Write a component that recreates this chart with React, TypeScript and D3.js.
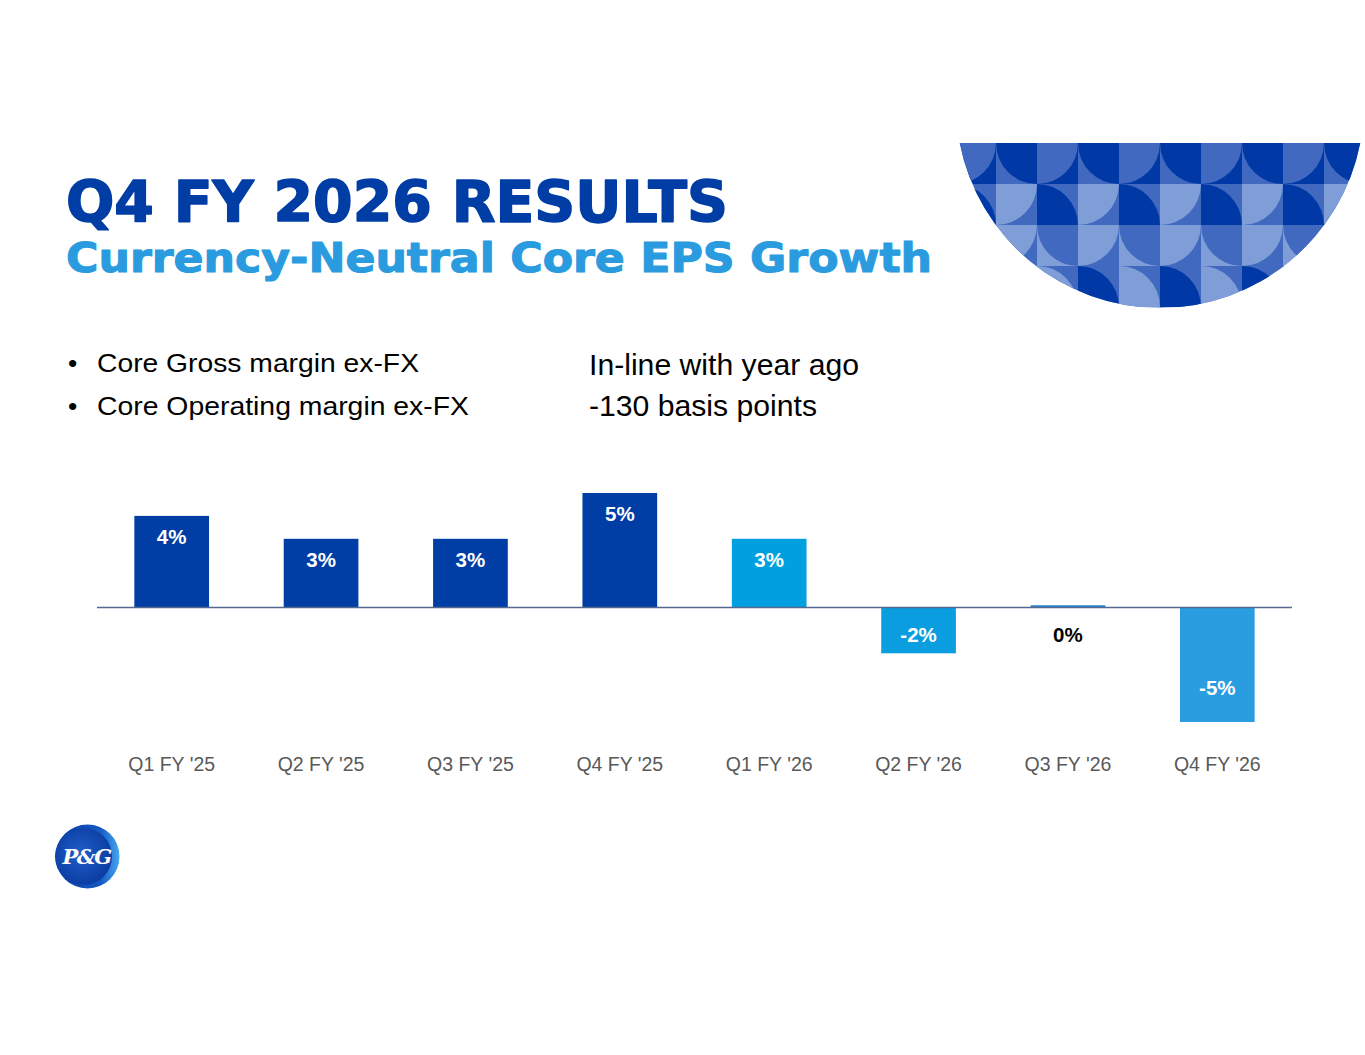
import * as d3 from "d3";

// chart values
const categories = ["Q1 FY '25", "Q2 FY '25", "Q3 FY '25", "Q4 FY '25", "Q1 FY '26", "Q2 FY '26", "Q3 FY '26", "Q4 FY '26"];
const growth = [4, 3, 3, 5, 3, -2, 0.1, -5];
const bullets = ["Core Gross margin ex-FX", "Core Operating margin ex-FX"];
const marginNotes = ["In-line with year ago", "-130 basis points"];

const W = 1365;
const H = 1055;

const DARK = "#003DA5";
const barColors = [DARK, DARK, DARK, DARK, "#009FE0", "#0A9EE0", "#2F86D6", "#2A9CE0"];

// text widths as measured on the slide (px)
const bulletWidths = [322, 372];
const noteWidths = [270, 228];

// decorative half-circle tile pattern
const TILE = 41;
const tileD = "#0039A6";
const tileM = "#4169BF";
const tileL = "#7F9ED8";
type Corner = "TL" | "TR" | "BL" | "BR";
const cornerAngles: Record<Corner, [number, number]> = {
  TL: [Math.PI / 2, Math.PI],
  TR: [Math.PI, (3 * Math.PI) / 2],
  BL: [0, Math.PI / 2],
  BR: [(3 * Math.PI) / 2, 2 * Math.PI],
};

function tileSpec(row: number, col: number): { bg: string; fg: string; corner: Corner } {
  const even = col % 2 === 0;
  if (row === 0) return even ? { bg: tileD, fg: tileM, corner: "TL" } : { bg: tileM, fg: tileD, corner: "TR" };
  if (row === 1) return even ? { bg: tileM, fg: tileD, corner: "BL" } : { bg: tileM, fg: tileL, corner: "TL" };
  if (row === 2) return even ? { bg: tileL, fg: tileM, corner: "TR" } : { bg: tileM, fg: tileL, corner: "TL" };
  return even ? { bg: tileM, fg: tileL, corner: "BL" } : { bg: tileM, fg: tileD, corner: "BL" };
}

function Pattern() {
  const cx = 1160;
  const cy = 104;
  const r = 204;
  const top = 143;
  const hw = Math.sqrt(r * r - (top - cy) * (top - cy));
  const clip = `M${cx - hw},${top} A${r},${r} 0 0 0 ${cx + hw},${top} Z`;
  const x0 = cx - 5 * TILE;
  const quarter = d3.arc<[number, number]>()
    .innerRadius(0)
    .outerRadius(TILE)
    .startAngle(d => d[0])
    .endAngle(d => d[1]);

  const cells = d3.range(4).flatMap(row => d3.range(10).map(col => ({ row, col })));
  return (
    <g>
      <defs>
        <clipPath id="halfMoon">
          <path d={clip} />
        </clipPath>
      </defs>
      <g clipPath="url(#halfMoon)">
        {cells.map(({ row, col }) => {
          const s = tileSpec(row, col);
          const x = x0 + col * TILE;
          const y = top + row * TILE;
          const px = s.corner === "TR" || s.corner === "BR" ? x + TILE : x;
          const py = s.corner === "BL" || s.corner === "BR" ? y + TILE : y;
          return (
            <g key={`${row}-${col}`}>
              <rect x={x} y={y} width={TILE + 0.5} height={TILE + 0.5} fill={s.bg} />
              <path d={quarter(cornerAngles[s.corner]) || ""} transform={`translate(${px},${py})`} fill={s.fg} />
            </g>
          );
        })}
      </g>
    </g>
  );
}

function Logo() {
  return (
    <g transform="translate(87.5,856.5)">
      <defs>
        <linearGradient id="logoRim" x1="0" x2="1" y1="0" y2="0">
          <stop offset="0%" stopColor="#0A3A9E" />
          <stop offset="70%" stopColor="#1559C4" />
          <stop offset="100%" stopColor="#45A8F0" />
        </linearGradient>
        <radialGradient id="logoCore" cx="0.45" cy="0.45" r="0.6">
          <stop offset="0%" stopColor="#1F5FC9" />
          <stop offset="100%" stopColor="#0A3A9E" />
        </radialGradient>
      </defs>
      <circle r={32} fill="url(#logoRim)" />
      <circle cx={-4} cy={0} r={28.5} fill="url(#logoCore)" />
      <text
        x={-1}
        y={7.5}
        textAnchor="middle"
        fill="#fff"
        fontFamily="'DejaVu Serif', 'Liberation Serif', serif"
        fontStyle="italic"
        fontWeight="bold"
        fontSize={21}
        letterSpacing={-1.5}
      >
        P&amp;G
      </text>
    </g>
  );
}

function EpsChart() {
  const x = d3.scaleBand<string>()
    .domain(categories)
    .range([97, 1292])
    .paddingInner(0.5)
    .paddingOuter(0.25);
  const y = d3.scaleLinear().domain([-5, 5]).range([722, 493]);
  const zero = y(0);

  const labelCenter = (v: number) =>
    v >= 1 ? y(v) + 21 : Math.max(zero + 27, y(v) - 34);

  return (
    <g>
      {growth.map((v, i) => (
        <rect
          key={categories[i]}
          x={x(categories[i])}
          y={Math.min(y(v), zero)}
          width={x.bandwidth()}
          height={Math.abs(y(v) - zero)}
          fill={barColors[i]}
        />
      ))}
      <line x1={97} x2={1292} y1={zero} y2={zero} stroke="#53698F" strokeWidth={1.5} />
      {growth.map((v, i) => (
        <text
          key={`lbl-${categories[i]}`}
          x={(x(categories[i]) ?? 0) + x.bandwidth() / 2}
          y={labelCenter(v)}
          dy="0.36em"
          textAnchor="middle"
          fontFamily="'Liberation Sans', Arial, sans-serif"
          fontWeight="bold"
          fontSize={20.5}
          fill={Math.abs(v) >= 1 ? "#fff" : "#000"}
        >
          {`${Math.round(v)}%`}
        </text>
      ))}
      {categories.map(c => (
        <text
          key={`cat-${c}`}
          x={(x(c) ?? 0) + x.bandwidth() / 2}
          y={771}
          textAnchor="middle"
          fontFamily="'Liberation Sans', Arial, sans-serif"
          fontSize={19.5}
          fill="#595959"
        >
          {c}
        </text>
      ))}
    </g>
  );
}

export default function App() {
  const sans = "'Liberation Sans', Arial, sans-serif";
  const heavy = "'DejaVu Sans', 'Liberation Sans', sans-serif";
  return (
    <div style={{ position: "absolute", left: 0, top: 0, width: W, height: H, background: "#fff" }}>
      <svg width={W} height={H} style={{ display: "block" }}>
        <rect width={W} height={H} fill="#fff" />
        <Pattern />

        <text
          x={66}
          y={222}
          fontFamily={heavy}
          fontWeight="bold"
          fontSize={57.5}
          fill={DARK}
          stroke={DARK}
          strokeWidth={1.6}
          strokeLinejoin="round"
          textLength={662}
          lengthAdjust="spacingAndGlyphs"
        >
          Q4 FY 2026 RESULTS
        </text>
        <text
          x={66}
          y={272}
          fontFamily={heavy}
          fontWeight="bold"
          fontSize={41.5}
          fill="#2A9BDF"
          stroke="#2A9BDF"
          strokeWidth={1.1}
          strokeLinejoin="round"
          textLength={866}
          lengthAdjust="spacingAndGlyphs"
        >
          Currency-Neutral Core EPS Growth
        </text>

        {bullets.map((b, i) => (
          <g key={b} fontFamily={sans} fontSize={26.5} fill="#000">
            <text x={68} y={372 + i * 43}>•</text>
            <text x={97} y={372 + i * 43} textLength={bulletWidths[i]} lengthAdjust="spacingAndGlyphs">
              {b}
            </text>
          </g>
        ))}
        {marginNotes.map((t, i) => (
          <text
            key={t}
            x={589}
            y={375 + i * 41}
            fontFamily={sans}
            fontSize={29}
            fill="#000"
            textLength={noteWidths[i]}
            lengthAdjust="spacingAndGlyphs"
          >
            {t}
          </text>
        ))}

        <EpsChart />
        <Logo />
      </svg>
    </div>
  );
}
